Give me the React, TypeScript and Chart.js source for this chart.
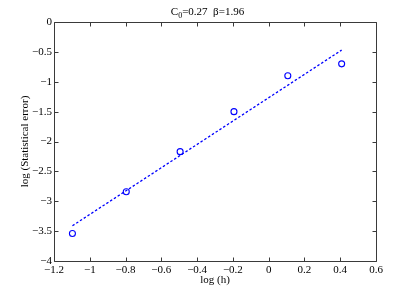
import React, { useEffect, useRef } from 'react';
import { Chart, registerables } from 'chart.js';

Chart.register(...registerables);

// Data
const logH = [-1.097, -0.796, -0.495, -0.194, 0.107, 0.408];
const logErr = [-3.54, -2.84, -2.17, -1.5, -0.9, -0.7];
const fitX = [-1.097, 0.408];
const fitY = [-3.41, -0.47];
const xTicks = [-1.2, -1, -0.8, -0.6, -0.4, -0.2, 0, 0.2, 0.4, 0.6];
const yTicks = [-4, -3.5, -3, -2.5, -2, -1.5, -1, -0.5, 0];
const titleBase = 'C';
const titleSub = '0';
const titleRest = '=0.27  \u03b2=1.96';
const xLabel = 'log (h)';
const yLabel = 'log (Statistical error)';

const FONT = '"Liberation Serif", "Times New Roman", serif';
const BLUE = 'rgb(0,0,255)';

const fmt = (v: number) => {
  const s = String(Math.round(v * 100) / 100);
  return s.replace('-', '\u2212');
};

const framePlugin = {
  id: 'matlabFrame',
  afterDraw(chart: any) {
    const { ctx, chartArea } = chart;
    const { left, right, top, bottom } = chartArea;
    const xs = chart.scales.x;
    const ys = chart.scales.y;
    ctx.save();
    ctx.strokeStyle = '#3a3a3a';
    ctx.lineWidth = 1;
    const L = Math.round(left) + 0.5;
    const R = Math.round(right) + 0.5;
    const T = Math.round(top) + 0.5;
    const B = Math.round(bottom) + 0.5;
    ctx.beginPath();
    ctx.rect(L, T, R - L, B - T);
    ctx.stroke();
    const tl = 4;
    ctx.beginPath();
    xTicks.forEach((v) => {
      const px = Math.round(xs.getPixelForValue(v)) + 0.5;
      ctx.moveTo(px, B);
      ctx.lineTo(px, B - tl);
      ctx.moveTo(px, T);
      ctx.lineTo(px, T + tl);
    });
    yTicks.forEach((v) => {
      const py = Math.round(ys.getPixelForValue(v)) + 0.5;
      ctx.moveTo(L, py);
      ctx.lineTo(L + tl, py);
      ctx.moveTo(R, py);
      ctx.lineTo(R - tl, py);
    });
    ctx.stroke();

    // Title with subscript
    ctx.fillStyle = '#000';
    ctx.textBaseline = 'alphabetic';
    ctx.textAlign = 'left';
    const mainFont = `11px ${FONT}`;
    const subFont = `8px ${FONT}`;
    ctx.font = mainFont;
    const wBase = ctx.measureText(titleBase).width;
    const wRest = ctx.measureText(titleRest).width;
    ctx.font = subFont;
    const wSub = ctx.measureText(titleSub).width;
    const total = wBase + wSub + wRest;
    const x0 = chart.width / 2 - total / 2;
    const base = 14.5;
    ctx.font = mainFont;
    ctx.fillText(titleBase, x0, base);
    ctx.font = subFont;
    ctx.fillText(titleSub, x0 + wBase, base + 3);
    ctx.font = mainFont;
    ctx.fillText(titleRest, x0 + wBase + wSub, base);

    // x label
    ctx.textAlign = 'center';
    ctx.fillText(xLabel, (left + right) / 2, 283);

    // y label
    ctx.save();
    ctx.translate(28, (top + bottom) / 2);
    ctx.rotate(-Math.PI / 2);
    ctx.textAlign = 'center';
    ctx.fillText(yLabel, 0, 0);
    ctx.restore();
    ctx.restore();
  },
};

export default function App() {
  const ref = useRef<HTMLCanvasElement | null>(null);
  useEffect(() => {
    document.body.style.margin = '0';
    if (!ref.current) return;
    const chart = new Chart(ref.current, {
      type: 'scatter',
      data: {
        datasets: [
          {
            label: 'data',
            data: logH.map((x, i) => ({ x, y: logErr[i] })),
            showLine: false,
            pointRadius: 3,
            pointHoverRadius: 3,
            pointStyle: 'circle',
            borderColor: BLUE,
            backgroundColor: 'rgba(0,0,0,0)',
            pointBorderWidth: 1.1,
            order: 1,
          },
          {
            label: 'fit',
            data: fitX.map((x, i) => ({ x, y: fitY[i] })),
            showLine: true,
            pointRadius: 0,
            borderColor: BLUE,
            borderWidth: 1.3,
            borderDash: [2.5, 2],
            backgroundColor: BLUE,
            order: 2,
          },
        ],
      },
      options: {
        responsive: false,
        animation: false,
        events: [],
        layout: { padding: { top: 22, right: 39, left: 0, bottom: 0 } },
        plugins: {
          legend: { display: false },
          title: { display: false },
          tooltip: { enabled: false },
        },
        scales: {
          x: {
            type: 'linear',
            min: -1.2,
            max: 0.6,
            afterBuildTicks: (s: any) => {
              s.ticks = xTicks.map((v) => ({ value: v }));
            },
            afterFit: (s: any) => {
              s.height = 33;
            },
            grid: { display: false, drawTicks: false },
            border: { display: false },
            ticks: {
              padding: 3,
              maxRotation: 0,
              autoSkip: false,
              color: '#000',
              font: { family: FONT, size: 11 },
              callback: (v: any) => fmt(Number(v)),
            },
          },
          y: {
            type: 'linear',
            min: -4,
            max: 0,
            afterBuildTicks: (s: any) => {
              s.ticks = yTicks.map((v) => ({ value: v }));
            },
            afterFit: (s: any) => {
              s.width = 54;
            },
            grid: { display: false, drawTicks: false },
            border: { display: false },
            ticks: {
              padding: 2,
              autoSkip: false,
              color: '#000',
              font: { family: FONT, size: 11 },
              callback: (v: any) => fmt(Number(v)),
            },
          },
        },
      },
      plugins: [framePlugin],
    });
    return () => chart.destroy();
  }, []);
  return (
    <div style={{ width: 415, height: 294 }}>
      <canvas ref={ref} width={415} height={294} />
    </div>
  );
}
